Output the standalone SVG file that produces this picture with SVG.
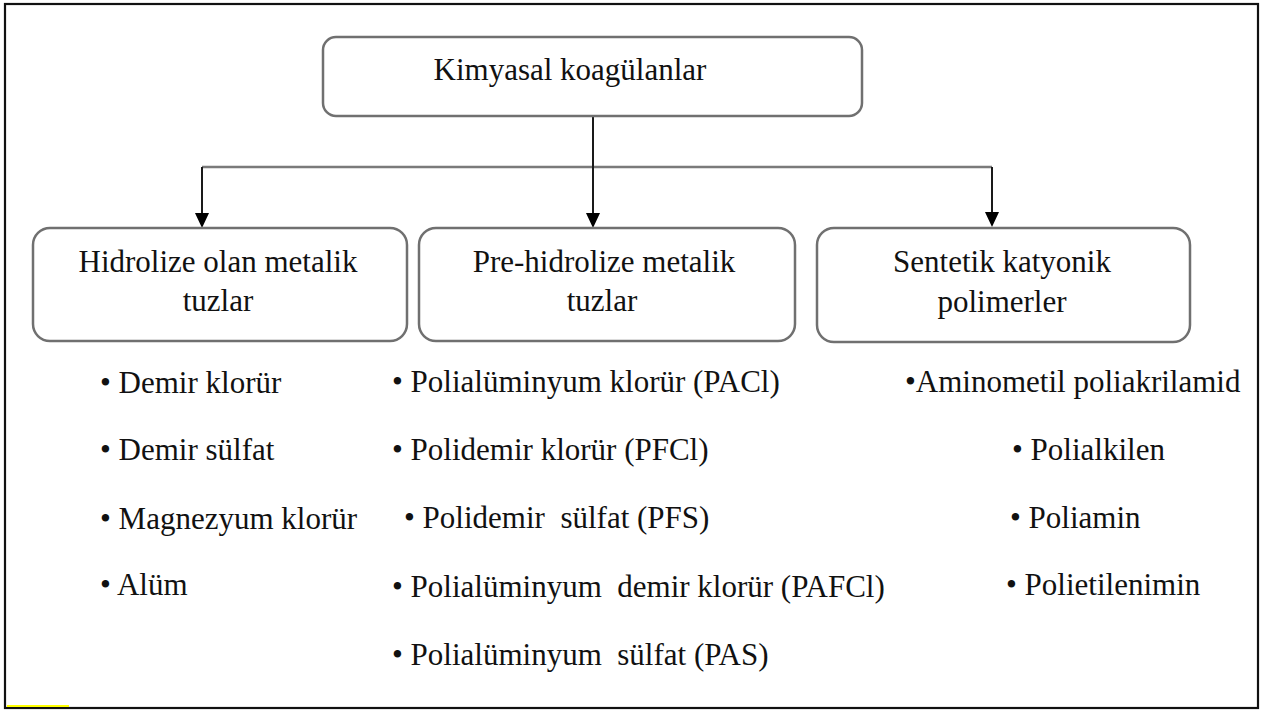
<svg xmlns="http://www.w3.org/2000/svg" width="1264" height="713" viewBox="0 0 1264 713">
  <style>
    .box { fill: #ffffff; stroke: #707070; stroke-width: 2.5; }
    .t { font-family: 'Liberation Serif', Tinos, 'Times New Roman', 'DejaVu Serif', serif; font-size: 31px; fill: #111111; white-space: pre; }
    .c { text-anchor: middle; }
    .wire { fill: none; stroke: #1a1a1a; stroke-width: 2; }
    .bus { fill: none; stroke: #7a7a7a; stroke-width: 2.5; }
  </style>

  <rect x="0" y="0" width="1264" height="713" fill="#ffffff"/>
  <!-- outer frame -->
  <rect x="5" y="4" width="1253" height="704" fill="none" stroke="#111111" stroke-width="2.2"/>
  <line x1="7" y1="706" x2="69" y2="706" stroke="#ffff00" stroke-width="2"/>

  <!-- connectors -->
  <g id="connectors">
    <line class="bus" x1="202" y1="167" x2="992" y2="167"/>
    <path class="wire" d="M593,117 V213"/>
    <path d="M586,213 L600,213 L593,228 Z" fill="#000"/>
    <path class="wire" d="M202,167 V213"/>
    <path d="M195,213 L209,213 L202,228 Z" fill="#000"/>
    <path class="wire" d="M992,167 V212"/>
    <path d="M985,212 L999,212 L992,227 Z" fill="#000"/>
  </g>

  <!-- root node -->
  <g id="node-root">
    <rect class="box" x="323" y="37" width="539" height="79" rx="13"/>
    <text class="t c" x="570" y="80" font-family="Liberation Serif, serif">Kimyasal koagülanlar</text>
  </g>

  <!-- category nodes -->
  <g id="node-hydrolysed">
    <rect class="box" x="33" y="228" width="374" height="113" rx="17"/>
    <text class="t c" x="218" y="272">Hidrolize olan metalik</text>
    <text class="t c" x="218" y="311">tuzlar</text>
  </g>
  <g id="node-prehydrolysed">
    <rect class="box" x="419" y="228" width="376" height="113" rx="17"/>
    <text class="t c" x="604" y="272">Pre-hidrolize metalik</text>
    <text class="t c" x="602" y="311">tuzlar</text>
  </g>
  <g id="node-polymers">
    <rect class="box" x="817" y="228" width="373" height="114" rx="17"/>
    <text class="t c" x="1002" y="272">Sentetik katyonik</text>
    <text class="t c" x="1002" y="312">polimerler</text>
  </g>

  <!-- item lists -->
  <g id="list-hydrolysed">
    <text class="t" x="100" y="393">• Demir klorür</text>
    <text class="t" x="100" y="460">• Demir sülfat</text>
    <text class="t" x="100" y="529">• Magnezyum klorür</text>
    <text class="t" x="100" y="595">• Alüm</text>
  </g>
  <g id="list-prehydrolysed">
    <text class="t" x="392" y="392">• Polialüminyum klorür (PACl)</text>
    <text class="t" x="392" y="460">• Polidemir klorür (PFCl)</text>
    <text class="t" x="404" y="528">• Polidemir  sülfat (PFS)</text>
    <text class="t" x="392" y="597">• Polialüminyum  demir klorür (PAFCl)</text>
    <text class="t" x="392" y="665">• Polialüminyum  sülfat (PAS)</text>
  </g>
  <g id="list-polymers">
    <text class="t" x="905" y="392">•Aminometil poliakrilamid</text>
    <text class="t" x="1012" y="460">• Polialkilen</text>
    <text class="t" x="1010" y="528">• Poliamin</text>
    <text class="t" x="1006" y="595">• Polietilenimin</text>
  </g>
</svg>
